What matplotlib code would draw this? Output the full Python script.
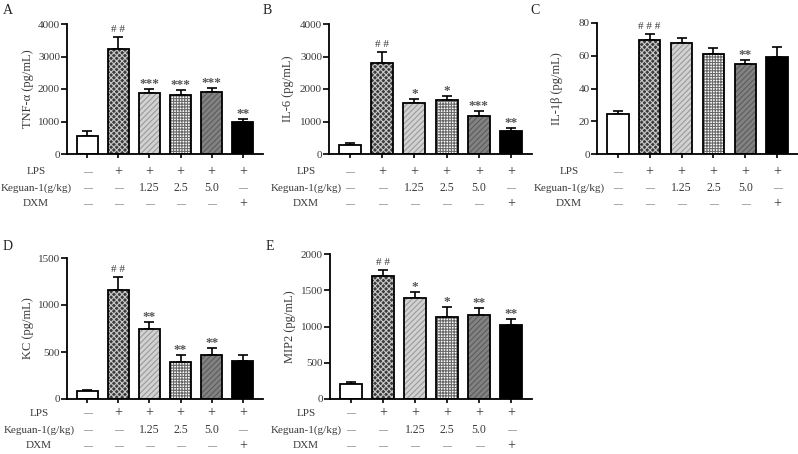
import matplotlib
matplotlib.use('Agg')
from matplotlib import pyplot as plt

plt.rcParams['font.family'] = ['Liberation Serif', 'DejaVu Serif']
plt.rcParams['hatch.linewidth'] = 0.8

# cytokine data (mean and upper SEM)
tnf_mean = [560, 3240, 1890, 1820, 1920, 980]
tnf_err = [160, 350, 100, 150, 120, 100]
tnf_sig = ['', '##', '***', '***', '***', '**']

il6_mean = [290, 2800, 1580, 1660, 1160, 700]
il6_err = [40, 330, 100, 130, 150, 90]
il6_sig = ['', '##', '*', '*', '***', '**']

il1b_mean = [24.5, 69.5, 68, 61, 55, 59.5]
il1b_err = [1.5, 4, 3, 4, 2.5, 6]
il1b_sig = ['', '###', '', '', '**', '']

kc_mean = [85, 1160, 740, 390, 465, 400]
kc_err = [10, 140, 75, 75, 75, 70]
kc_sig = ['', '##', '**', '**', '**', '']

mip2_mean = [210, 1700, 1400, 1130, 1160, 1020]
mip2_err = [30, 80, 70, 140, 100, 90]
mip2_sig = ['', '##', '*', '*', '**', '**']

row_names = ['LPS', 'Keguan-1(g/kg)', 'DXM']
row_lps = ['—', '+', '+', '+', '+', '+']
row_keguan = ['—', '—', '1.25', '2.5', '5.0', '—']
row_dxm = ['—', '—', '—', '—', '—', '+']

# bar styles: (facecolor, hatch, hatchcolor)
styles = [
    ('white', None, 'black'),
    ('#3c3c3c', 'xxxxxx', '#c8c8c8'),
    ('#d2d2d2', '//////', '#9a9a9a'),
    ('white', '++++++', '#6a6a6a'),
    ('#828282', '//////', '#5c5c5c'),
    ('black', None, 'black'),
]

W, H = 798, 454
fig = plt.figure(figsize=(W / 100, H / 100), dpi=100)
txt = '#3a3a3a'


def add_panel(x0, x1, ytop, ybot):
    return fig.add_axes([x0 / W, 1 - ybot / H, (x1 - x0) / W, (ybot - ytop) / H])


def draw(ax, mean, err, sig, ylim, ticks, ylabel, rows_dy, lab_dx):
    xs = list(range(len(mean)))
    for i, (fc, hatch, hc) in enumerate(styles):
        ax.bar(xs[i], mean[i], width=0.68, color=fc, hatch=hatch,
               edgecolor=hc, linewidth=0, zorder=2)
        ax.bar(xs[i], mean[i], width=0.68, fill=False, edgecolor='black',
               linewidth=1.3, zorder=3)
    ax.errorbar(xs, mean, yerr=[[0] * len(err), err], fmt='none', ecolor='black',
                elinewidth=1.2, capsize=3.5, capthick=1.2, zorder=1)
    for i, s in enumerate(sig):
        if s.startswith('#'):
            ax.annotate(' '.join(s), (xs[i], mean[i] + err[i]), xytext=(0, 3),
                        textcoords='offset pixels', ha='center', va='bottom',
                        fontsize=8, color=txt)
        elif s:
            ax.annotate(s, (xs[i], mean[i] + err[i]), xytext=(0, -1),
                        textcoords='offset pixels', ha='center', va='bottom',
                        fontsize=9.5, color='#555555', fontweight='bold')
    ax.set_xlim(-0.65, 5.65)
    ax.set_ylim(*ylim)
    ax.set_yticks(ticks)
    ax.set_xticks(xs)
    ax.set_xticklabels([])
    for sp in ['top', 'right']:
        ax.spines[sp].set_visible(False)
    for sp in ['left', 'bottom']:
        ax.spines[sp].set_linewidth(1.3)
    ax.tick_params(axis='y', length=4, width=1.2, labelsize=8, labelcolor=txt, pad=1)
    ax.tick_params(axis='x', length=3, width=1.2)
    ax.set_ylabel(ylabel, fontsize=9, color=txt)
    ax.yaxis.set_label_coords(-0.17, 0.5)
    tr = ax.get_xaxis_transform()
    for r, row in enumerate([row_lps, row_keguan, row_dxm]):
        ax.annotate(row_names[r], (0, 0), xycoords='axes fraction',
                    xytext=(lab_dx, -rows_dy[r]), textcoords='offset pixels',
                    ha='center', va='center', fontsize=8, color=txt)
        for i, t in enumerate(row):
            if t == '—':
                fs = 6.5
            elif t == '+':
                fs = 10
            else:
                fs = 8.5
            ax.annotate(t, (xs[i], 0), xycoords=tr, xytext=(0, -rows_dy[r]),
                        textcoords='offset pixels', ha='center', va='center',
                        fontsize=fs, color=txt)


axA = add_panel(67, 263, 24, 154)
axB = add_panel(329, 532, 24, 154)
axC = add_panel(597, 798, 23, 154)
axD = add_panel(67, 263, 258, 399)
axE = add_panel(330, 532, 254, 399)

top_rows = [18, 34, 50]
bot_rows = [14, 31, 47]
draw(axA, tnf_mean, tnf_err, tnf_sig, (0, 4000), [0, 1000, 2000, 3000, 4000],
     'TNF-α (pg/mL)', top_rows, -31)
draw(axB, il6_mean, il6_err, il6_sig, (0, 4000), [0, 1000, 2000, 3000, 4000],
     'IL-6 (pg/mL)', top_rows, -23)
draw(axC, il1b_mean, il1b_err, il1b_sig, (0, 80), [0, 20, 40, 60, 80],
     'IL-1β (pg/mL)', top_rows, -28)
draw(axD, kc_mean, kc_err, kc_sig, (0, 1500), [0, 500, 1000, 1500],
     'KC (pg/mL)', bot_rows, -28)
draw(axE, mip2_mean, mip2_err, mip2_sig, (0, 2000), [0, 500, 1000, 1500, 2000],
     'MIP2 (pg/mL)', bot_rows, -24)

# panel letters
for letter, x, y in [('A', 3, 10), ('B', 263, 10), ('C', 530, 10), ('D', 3, 247), ('E', 266, 247)]:
    fig.text(x / W, 1 - y / H, letter, fontsize=10, color='#222222', va='center', ha='left')

fig.savefig('out.png', dpi=100)
